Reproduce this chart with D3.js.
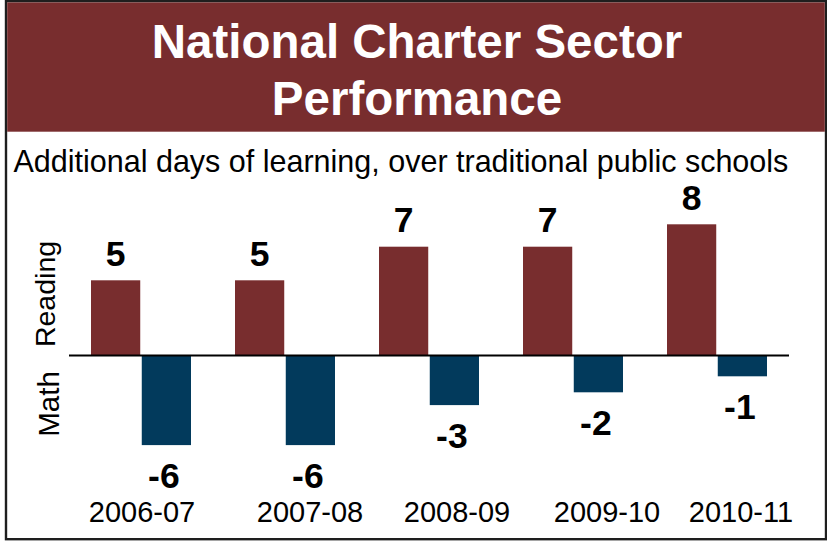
<!DOCTYPE html>
<html>
<head>
<meta charset="utf-8">
<script src="https://cdn.jsdelivr.net/npm/d3@7"></script>
<style>
  html, body { margin: 0; padding: 0; background: #ffffff; }
  svg { display: block; }
  text { font-family: "Liberation Sans", Arial, sans-serif; }
</style>
</head>
<body>
<svg id="chart" width="827" height="541"></svg>
<script>
// ---- data ----
const categories = ["2006-07", "2007-08", "2008-09", "2009-10", "2010-11"];
const readingValues = [4.7, 4.7, 6.8, 6.8, 8.2];
const mathValues = [-5.6, -5.6, -3.1, -2.3, -1.3];
const seriesNames = ["Reading", "Math"];
const titleLines = ["National Charter Sector", "Performance"];
const subtitle = "Additional days of learning, over traditional public schools";
// horizontal nudges of the year labels (as placed in the original)
const yearLabelNudge = [1, 25, 28, 34, 24];

// ---- layout ----
const readingColor = "#782d2e";
const mathColor = "#023a5c";
const svg = d3.select("#chart");

// frame
svg.append("rect")
  .attr("x", 6).attr("y", 1.2).attr("width", 820).attr("height", 538)
  .attr("fill", "#ffffff").attr("stroke", "#1e1e1e").attr("stroke-width", 2.4);

// title band
svg.append("rect")
  .attr("x", 7.2).attr("y", 2.4).attr("width", 817.6).attr("height", 129.3)
  .attr("fill", readingColor);

svg.selectAll("text.title").data(titleLines).join("text")
  .attr("class", "title")
  .attr("x", 417).attr("y", (d, i) => 58 + i * 57)
  .attr("text-anchor", "middle")
  .attr("font-size", 47.5).attr("font-weight", "bold").attr("fill", "#ffffff")
  .text(d => d);

svg.append("text")
  .attr("x", 13.5).attr("y", 171.5)
  .attr("font-size", 30.5).attr("fill", "#000")
  .text(subtitle);

// scales
const x0 = d3.scaleBand().domain(categories).range([69, 789]).paddingInner(0).paddingOuter(0);
const x1 = d3.scaleBand().domain(seriesNames).range([22, 122]).paddingInner(0.03);
const y = d3.scaleLinear().domain([-6, 9]).range([451.5, 211.5]);

const rows = categories.map((c, i) => ({
  cat: c,
  vals: [
    { key: "Reading", v: readingValues[i] },
    { key: "Math", v: mathValues[i] }
  ]
}));

const g = svg.append("g");
const groups = g.selectAll("g.grp").data(rows).join("g")
  .attr("class", "grp")
  .attr("transform", d => `translate(${x0(d.cat)},0)`);

groups.selectAll("rect").data(d => d.vals).join("rect")
  .attr("x", d => x1(d.key))
  .attr("width", x1.bandwidth())
  .attr("y", d => y(Math.max(0, d.v)))
  .attr("height", d => Math.abs(y(d.v) - y(0)))
  .attr("fill", d => d.key === "Reading" ? readingColor : mathColor);

groups.selectAll("text.val").data(d => d.vals).join("text")
  .attr("class", "val")
  .attr("x", d => x1(d.key) + x1.bandwidth() / 2 + (d.v < 0 ? -2.5 : 0))
  .attr("y", d => d.v >= 0 ? y(d.v) - 14.5 : y(d.v) + 42.5)
  .attr("text-anchor", "middle")
  .attr("font-size", 35.5).attr("font-weight", "bold").attr("fill", "#000")
  .text(d => String(Math.round(d.v)));

// zero line
g.append("line")
  .attr("x1", 69).attr("x2", 789)
  .attr("y1", y(0)).attr("y2", y(0))
  .attr("stroke", "#000").attr("stroke-width", 2.2);

// year labels (axis)
const xAxis = d3.axisBottom(x0).tickSize(0).tickPadding(0);
const axG = svg.append("g").attr("transform", "translate(0,500)").call(xAxis);
axG.select(".domain").remove();
axG.selectAll(".tick text")
  .attr("font-family", "Liberation Sans, Arial, sans-serif")
  .attr("font-size", 29).attr("fill", "#000")
  .attr("dy", null).attr("y", 21.7)
  .attr("x", (d, i) => yearLabelNudge[i]);

// series side labels (rotated)
svg.append("text")
  .attr("transform", "translate(55,294) rotate(-90)")
  .attr("text-anchor", "middle")
  .attr("font-size", 28.5).attr("fill", "#000")
  .text(seriesNames[0]);
svg.append("text")
  .attr("transform", "translate(58.5,404) rotate(-90)")
  .attr("text-anchor", "middle")
  .attr("font-size", 29.5).attr("fill", "#000")
  .text(seriesNames[1]);
</script>
</body>
</html>
